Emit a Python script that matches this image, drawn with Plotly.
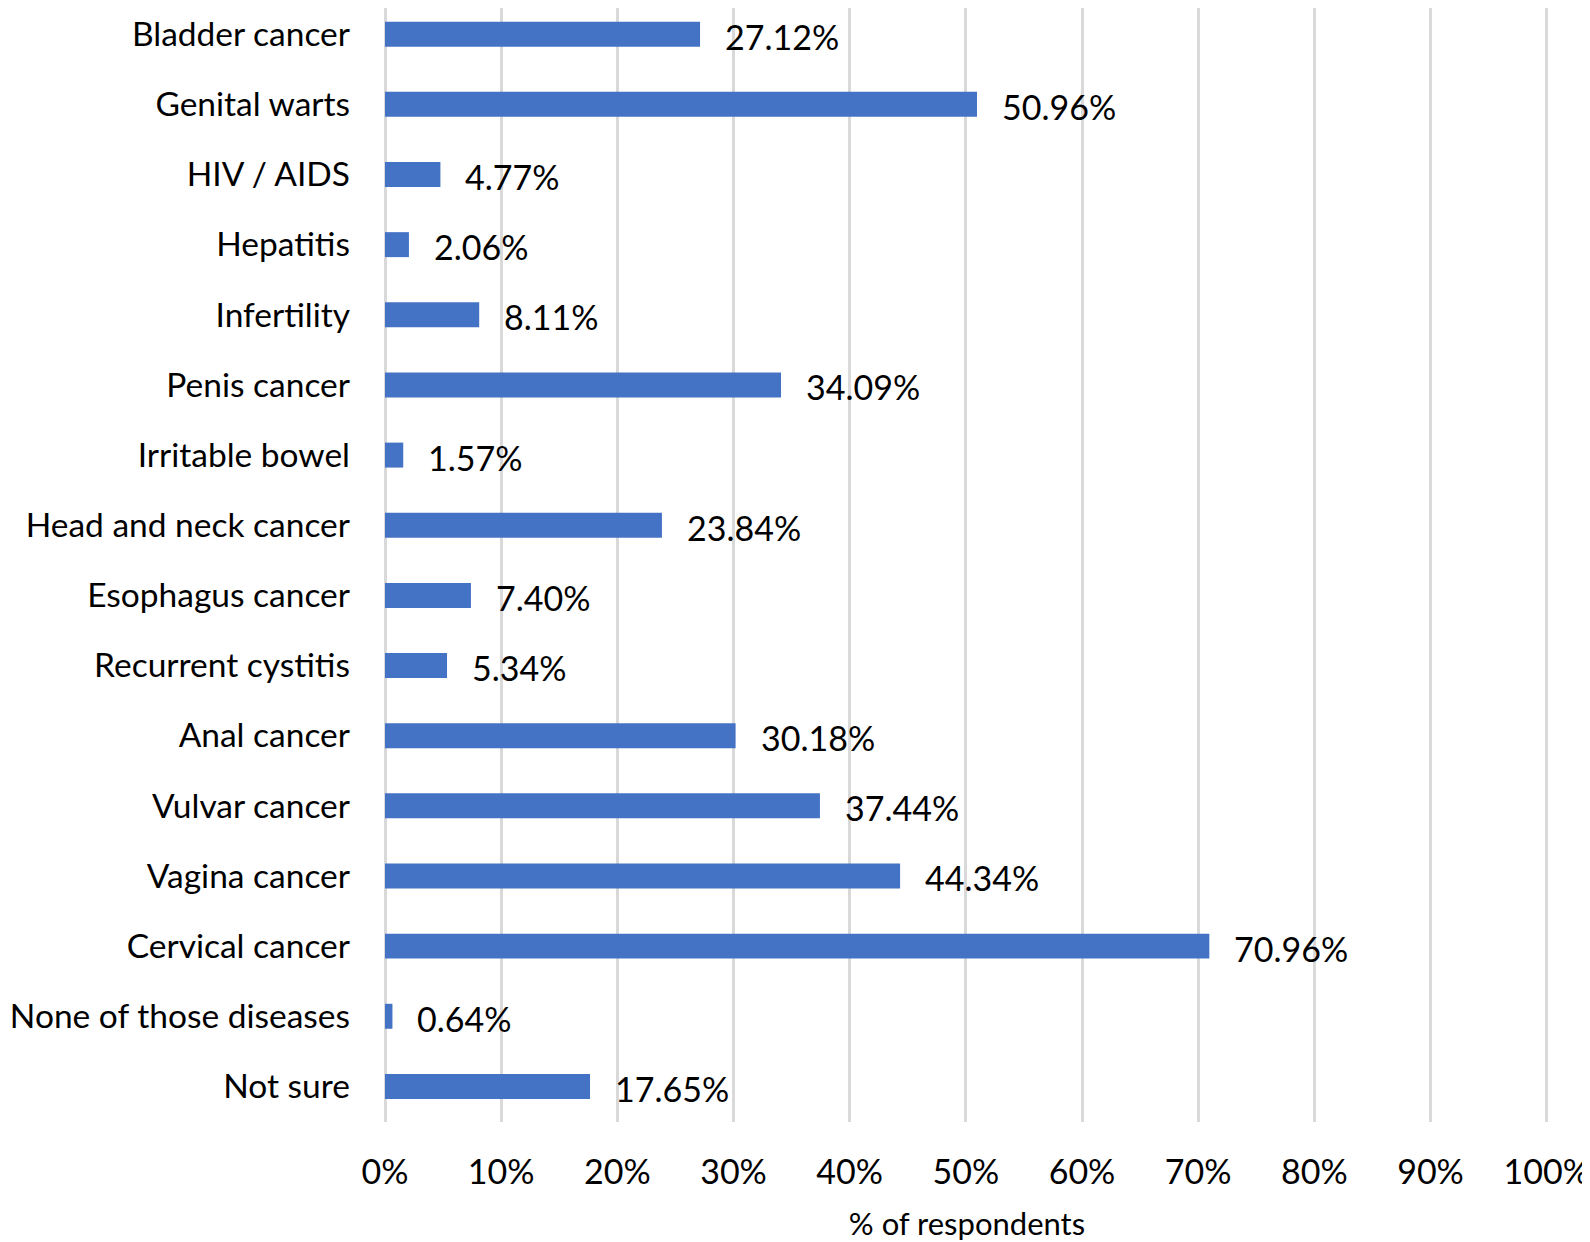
import plotly.graph_objects as go

categories = ["Bladder cancer", "Genital warts", "HIV / AIDS", "Hepatitis", "Infertility",
              "Penis cancer", "Irritable bowel", "Head and neck cancer", "Esophagus cancer",
              "Recurrent cystitis", "Anal cancer", "Vulvar cancer", "Vagina cancer",
              "Cervical cancer", "None of those diseases", "Not sure"]
values = [27.12, 50.96, 4.77, 2.06, 8.11, 34.09, 1.57, 23.84, 7.40, 5.34,
          30.18, 37.44, 44.34, 70.96, 0.64, 17.65]
x_ticks = [0, 10, 20, 30, 40, 50, 60, 70, 80, 90, 100]
x_tick_labels = [f"{t}%" for t in x_ticks]
axis_title = "% of respondents"

FONT = "Lato"
FS = 34

fig = go.Figure()
fig.add_trace(go.Bar(
    y=categories, x=values, orientation="h",
    marker=dict(color="#4472c4", line=dict(width=0)),
    hoverinfo="skip",
))

for c, v in zip(categories, values):
    fig.add_annotation(x=v, y=c, text=f"{v:.2f}%", showarrow=False,
                       xanchor="left", yanchor="middle", xshift=23, yshift=-2,
                       font=dict(family=FONT, size=FS, color="#000000"))

# page body has an 8px default margin; figure sized to fit the window
fig.update_layout(
    width=1582, height=1234,
    margin=dict(l=377, r=41, t=0, b=120),
    paper_bgcolor="white", plot_bgcolor="white",
    bargap=0.644,
    showlegend=False,
    font=dict(family=FONT, size=FS, color="#000000"),
)
fig.update_xaxes(
    range=[0, 100.2], tickvals=x_ticks, ticktext=x_tick_labels,
    showgrid=True, gridcolor="#d9d9d9", gridwidth=3,
    zeroline=True, zerolinecolor="#d9d9d9", zerolinewidth=3,
    showline=False, ticks="", ticklabelstandoff=27, automargin=False,
    tickfont=dict(family=FONT, size=FS, color="#000000"),
    title=dict(text=axis_title, standoff=24, font=dict(family=FONT, size=31, color="#000000")),
)
fig.update_yaxes(
    categoryorder="array", categoryarray=categories,
    range=[len(categories) - 0.493, -0.3735],
    showgrid=False, zeroline=False, showline=False, ticks="",
    ticklabelstandoff=34, automargin=False,
    tickfont=dict(family=FONT, size=33.5, color="#000000"),
)

fig.write_html("out.html")
